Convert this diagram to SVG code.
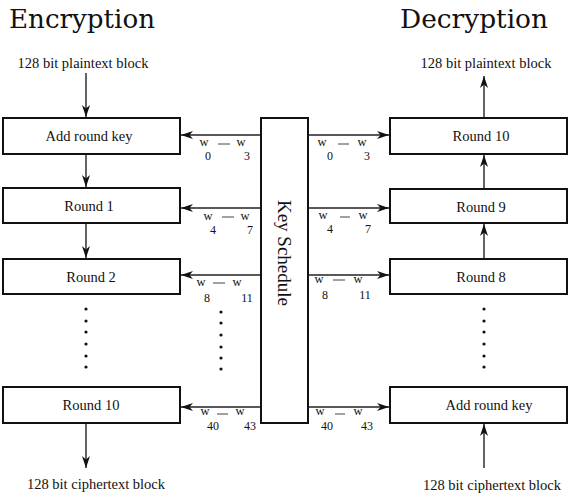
<svg xmlns="http://www.w3.org/2000/svg" width="574" height="502" viewBox="0 0 574 502">
  <defs>
    <marker id="head" viewBox="-13 -5 14 10" refX="0" refY="0" markerWidth="14" markerHeight="10" markerUnits="userSpaceOnUse" orient="auto">
      <path d="M0,0 L-12,-4 L-8.5,0 L-12,4 Z" fill="#111"/>
    </marker>
  </defs>
  <style>
    .box { fill: #fff; stroke: #111; stroke-width: 2; }
    .lbl { font-family: "Liberation Serif", "Times New Roman", serif; font-size: 14.5px; fill: #111; text-anchor: middle; }
    .w { font-family: "Liberation Serif", "Times New Roman", serif; font-size: 12.5px; fill: #111; text-anchor: middle; }
    .sub { font-family: "Liberation Serif", "Times New Roman", serif; font-size: 12px; fill: #111; text-anchor: middle; }
    .title { font-family: "DejaVu Serif", serif; font-size: 26px; fill: #111; }
    .arrow { stroke: #222; stroke-width: 1.4; fill: none; marker-end: url(#head); }
    .dash { stroke: #444; stroke-width: 1; }
    .dot { fill: #111; }
  </style>
  <rect width="574" height="502" fill="#fff"/>

  <text class="title" x="9" y="28" textLength="146" lengthAdjust="spacingAndGlyphs">Encryption</text>
  <text class="title" x="400" y="28" textLength="148" lengthAdjust="spacingAndGlyphs">Decryption</text>

  <!-- encryption column -->
  <g id="enc-add-round-key"><rect class="box" x="3" y="118" width="177" height="36"/><text class="lbl" x="89" y="141">Add round key</text></g>
  <g id="enc-round-1"><rect class="box" x="3" y="188" width="177" height="35"/><text class="lbl" x="89" y="211">Round 1</text></g>
  <g id="enc-round-2"><rect class="box" x="3" y="259" width="177" height="35"/><text class="lbl" x="91" y="282">Round 2</text></g>
  <g id="enc-round-10"><rect class="box" x="3" y="387" width="177" height="36"/><text class="lbl" x="91" y="410">Round 10</text></g>

  <!-- key schedule -->
  <g id="key-schedule">
    <rect class="box" x="261" y="118" width="47" height="305"/>
    <text transform="translate(284,253) rotate(90)" x="0" y="6.3" font-family="Liberation Serif, Times New Roman, serif" font-size="19" fill="#111" text-anchor="middle">Key Schedule</text>
  </g>

  <!-- decryption column -->
  <g id="dec-round-10"><rect class="box" x="390" y="118" width="177" height="36"/><text class="lbl" x="481" y="141">Round 10</text></g>
  <g id="dec-round-9"><rect class="box" x="390" y="189" width="177" height="34"/><text class="lbl" x="481" y="212">Round 9</text></g>
  <g id="dec-round-8"><rect class="box" x="390" y="259" width="177" height="35"/><text class="lbl" x="481" y="282">Round 8</text></g>
  <g id="dec-add-round-key"><rect class="box" x="390" y="387" width="177" height="36"/><text class="lbl" x="489" y="410">Add round key</text></g>

  <!-- block labels -->
  <text class="lbl" x="83" y="68">128 bit plaintext block</text>
  <text class="lbl" x="96" y="489">128 bit ciphertext block</text>
  <text class="lbl" x="486" y="68">128 bit plaintext block</text>
  <text class="lbl" x="492" y="490">128 bit ciphertext block</text>

  <g id="connectors">
    <!-- encryption data path -->
    <line class="arrow" x1="86" y1="73" x2="86" y2="117"/>
    <line class="arrow" x1="86" y1="155" x2="86" y2="187"/>
    <line class="arrow" x1="86" y1="224" x2="86" y2="258"/>
    <line class="arrow" x1="86" y1="424" x2="86" y2="468"/>
    <!-- decryption data path -->
    <line class="arrow" x1="484" y1="117" x2="484" y2="76"/>
    <line class="arrow" x1="484" y1="188" x2="484" y2="155"/>
    <line class="arrow" x1="484" y1="258" x2="484" y2="224"/>
    <line class="arrow" x1="484" y1="468" x2="484" y2="424"/>
    <!-- round keys to encryption -->
    <line class="arrow" x1="260" y1="135" x2="181" y2="135"/>
    <line class="arrow" x1="260" y1="208" x2="181" y2="208"/>
    <line class="arrow" x1="260" y1="275" x2="181" y2="275"/>
    <line class="arrow" x1="260" y1="407" x2="181" y2="407"/>
    <!-- round keys to decryption -->
    <line class="arrow" x1="309" y1="135" x2="389" y2="135"/>
    <line class="arrow" x1="309" y1="208" x2="389" y2="208"/>
    <line class="arrow" x1="309" y1="275" x2="389" y2="275"/>
    <line class="arrow" x1="309" y1="407" x2="389" y2="407"/>
  </g>

  <!-- key word ranges -->
  <g id="key-words">
    <text class="w" x="204" y="146">w</text><text class="sub" x="208" y="160">0</text>
    <line class="dash" x1="218" y1="144" x2="230" y2="144"/>
    <text class="w" x="241" y="146">w</text><text class="sub" x="247" y="160">3</text>

    <text class="w" x="322" y="146">w</text><text class="sub" x="330" y="160">0</text>
    <line class="dash" x1="338" y1="144" x2="349" y2="144"/>
    <text class="w" x="362" y="146">w</text><text class="sub" x="367" y="160">3</text>

    <text class="w" x="208" y="220">w</text><text class="sub" x="213" y="234">4</text>
    <line class="dash" x1="222" y1="217" x2="234" y2="217"/>
    <text class="w" x="245" y="220">w</text><text class="sub" x="250" y="234">7</text>

    <text class="w" x="323" y="219">w</text><text class="sub" x="330" y="233">4</text>
    <line class="dash" x1="340" y1="217" x2="350" y2="217"/>
    <text class="w" x="363" y="219">w</text><text class="sub" x="368" y="233">7</text>

    <text class="w" x="201" y="286">w</text><text class="sub" x="207" y="302">8</text>
    <line class="dash" x1="213" y1="283" x2="225" y2="283"/>
    <text class="w" x="237" y="286">w</text><text class="sub" x="247" y="302">11</text>

    <text class="w" x="319" y="283">w</text><text class="sub" x="325" y="299">8</text>
    <line class="dash" x1="333" y1="280" x2="345" y2="280"/>
    <text class="w" x="358" y="283">w</text><text class="sub" x="365" y="299">11</text>

    <text class="w" x="205" y="415">w</text><text class="sub" x="213" y="430">40</text>
    <line class="dash" x1="217" y1="414" x2="228" y2="414"/>
    <text class="w" x="240" y="415">w</text><text class="sub" x="250" y="430">43</text>

    <text class="w" x="320" y="415">w</text><text class="sub" x="327" y="430">40</text>
    <line class="dash" x1="335" y1="414" x2="345" y2="414"/>
    <text class="w" x="358" y="415">w</text><text class="sub" x="367" y="430">43</text>
  </g>

  <!-- ellipses -->
  <g id="ellipses">
    <circle class="dot" cx="86" cy="309" r="1.6"/><circle class="dot" cx="86" cy="321" r="1.6"/><circle class="dot" cx="86" cy="332" r="1.6"/>
    <circle class="dot" cx="86" cy="344" r="1.6"/><circle class="dot" cx="86" cy="356" r="1.6"/><circle class="dot" cx="86" cy="367" r="1.6"/>
    <circle class="dot" cx="221" cy="312" r="1.6"/><circle class="dot" cx="221" cy="323" r="1.6"/><circle class="dot" cx="221" cy="335" r="1.6"/>
    <circle class="dot" cx="221" cy="347" r="1.6"/><circle class="dot" cx="221" cy="358" r="1.6"/><circle class="dot" cx="221" cy="369" r="1.6"/>
    <circle class="dot" cx="484" cy="309" r="1.6"/><circle class="dot" cx="484" cy="321" r="1.6"/><circle class="dot" cx="484" cy="332" r="1.6"/>
    <circle class="dot" cx="484" cy="344" r="1.6"/><circle class="dot" cx="484" cy="356" r="1.6"/><circle class="dot" cx="484" cy="367" r="1.6"/>
  </g>
</svg>
